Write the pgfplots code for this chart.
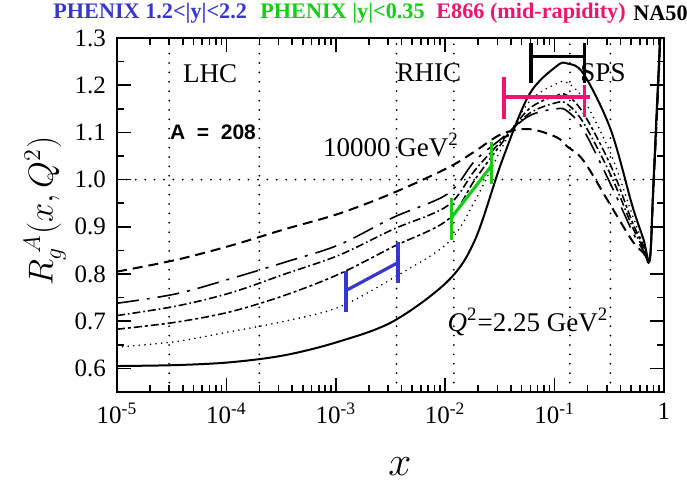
\documentclass[border=0pt]{standalone}
\usepackage{pgfplots}
\pgfplotsset{compat=1.18}
\usepackage{pgfplotstable}
\usepackage{fontspec}
\setmainfont{Liberation Serif}
\newfontfamily\labelsans{Liberation Sans}

\definecolor{phxfwd}{RGB}{55,55,205}
\definecolor{phxmid}{RGB}{20,205,20}
\definecolor{eeight}{RGB}{240,20,110}

% Gluon modification R_g^A(x,Q^2) for A=208 at six scales
% s: Q^2=2.25 GeV^2 ... h: Q^2=10000 GeV^2
\pgfplotstableread{
x        s      d      c      m      e      h
1e-5     0.605  0.645  0.683  0.712  0.738  0.805
3.48e-5  0.607  0.657  0.698  0.732  0.758  0.830
1.09e-4  0.613  0.678  0.720  0.760  0.790  0.860
3.43e-4  0.628  0.700  0.755  0.800  0.825  0.895
1.074e-3 0.657  0.730  0.800  0.840  0.862  0.928
3.365e-3 0.700  0.792  0.858  0.895  0.920  0.972
1.057e-2 0.785  0.866  0.915  0.945  0.970  1.025
1.871e-2 0.872  0.955  1.000  1.020  1.040  1.060
3.311e-2 1.040  1.068  1.078  1.083  1.088  1.097
5.861e-2 1.180  1.165  1.150  1.140  1.135  1.107
0.1038   1.240  1.203  1.178  1.163  1.150  1.090
0.1306   1.246  1.205  1.178  1.160  1.145  1.070
0.1841   1.224  1.170  1.140  1.120  1.105  1.040
0.3258   1.106  1.055  1.030  1.010  0.990  0.945
0.5140   0.944  0.925  0.910  0.900  0.890  0.870
0.6471   0.875  0.865  0.860  0.855  0.850  0.845
0.7413   0.830  0.830  0.830  0.830  0.830  0.830
0.7943   0.976  0.972  0.970  0.968  0.966  0.962
0.8511   1.130  1.125  1.120  1.118  1.115  1.110
0.9110   1.280  1.275  1.270  1.268  1.265  1.260
0.9528   1.400  1.395  1.390  1.388  1.385  1.380
}\shadowing

\begin{document}
\begin{tikzpicture}
\begin{axis}[
  name=ax,
  scale only axis, width=273.5pt, height=177pt,
  xmode=log, xmin=1e-5, xmax=1, ymin=0.55, ymax=1.3,
  axis line style={line width=1pt},
  xtick={1e-5,1e-4,1e-3,1e-2,1e-1,1},
  xticklabels={10\textsuperscript{-5},10\textsuperscript{-4},10\textsuperscript{-3},10\textsuperscript{-2},10\textsuperscript{-1},1},
  minor xtick={2e-5,3e-5,4e-5,5e-5,6e-5,7e-5,8e-5,9e-5,
               2e-4,3e-4,4e-4,5e-4,6e-4,7e-4,8e-4,9e-4,
               2e-3,3e-3,4e-3,5e-3,6e-3,7e-3,8e-3,9e-3,
               2e-2,3e-2,4e-2,5e-2,6e-2,7e-2,8e-2,9e-2,
               0.2,0.3,0.4,0.5,0.6,0.7,0.8,0.9},
  ytick={0.6,0.7,0.8,0.9,1.0,1.1,1.2,1.3},
  yticklabels={0.6,0.7,0.8,0.9,1.0,1.1,1.2,1.3},
  minor ytick={0.55,0.65,0.75,0.85,0.95,1.05,1.15,1.25},
  tick align=inside,
  major tick length=7pt, minor tick length=3.5pt,
  every tick/.style={line width=0.8pt, black},
  tick label style={font=\fontsize{12.5}{14}\selectfont},
  yticklabel style={xshift=-2pt},
  xticklabel style={yshift=-2pt},
  /pgf/number format/assume math mode=true,
  extra x ticks={3e-5,2e-4,3.59e-3,0.012,0.138,0.324},
  extra x tick labels={},
  extra y ticks={1.0},
  extra y tick labels={},
  extra tick style={grid=major, major tick length=0pt},
  major grid style={line width=1pt, line cap=round, dash pattern=on 0pt off 4.7pt, black},
  ylabel={$R_g^{\;A}(x,Q^2)$},
  ylabel style={font=\fontsize{17}{20}\selectfont, at={(axis description cs:-0.132,0.511)}, anchor=center},
  xlabel={$x$},
  xlabel style={font=\fontsize{22}{24}\selectfont, at={(axis description cs:0.517,-0.21)}, anchor=center},
]
% scale curves
\addplot[black, line width=1pt, smooth, tension=0.55] table[x=x,y=s]{\shadowing};
\addplot[black, line width=0.9pt, line cap=round, dash pattern=on 0pt off 2.8pt, smooth, tension=0.55] table[x=x,y=d]{\shadowing};
\addplot[black, line width=0.8pt, dash pattern=on 4pt off 1.5pt on 1.5pt off 1.5pt, smooth, tension=0.55] table[x=x,y=c]{\shadowing};
\addplot[black, line width=0.8pt, dash pattern=on 4pt off 1.5pt on 0.8pt off 1.5pt, smooth, tension=0.55] table[x=x,y=m]{\shadowing};
\addplot[black, line width=0.8pt, dash pattern=on 11pt off 4pt on 1.5pt off 4pt, smooth, tension=0.55] table[x=x,y=e]{\shadowing};
\addplot[black, line width=1pt, dash pattern=on 5pt off 3pt, smooth, tension=0.55] table[x=x,y=h]{\shadowing};

% PHENIX forward rapidity
\addplot[phxfwd, line width=1.6pt] coordinates {(1.24e-3,0.719) (1.24e-3,0.807)};
\addplot[phxfwd, line width=1.6pt] coordinates {(1.24e-3,0.765) (3.70e-3,0.824)};
\addplot[phxfwd, line width=1.6pt] coordinates {(3.70e-3,0.780) (3.70e-3,0.868)};
% PHENIX mid rapidity
\addplot[phxmid, line width=1.6pt] coordinates {(0.01147,0.873) (0.01147,0.960)};
\addplot[phxmid, line width=1.6pt] coordinates {(0.01147,0.920) (0.0266,1.030)};
\addplot[phxmid, line width=1.6pt] coordinates {(0.0266,0.990) (0.0266,1.080)};
% E866
\addplot[eeight, line width=1.6pt] coordinates {(0.0345,1.129) (0.0345,1.217)};
\addplot[eeight, line width=1.6pt] coordinates {(0.0345,1.175) (0.211,1.175)};
\addplot[eeight, line width=1.6pt] coordinates {(0.1877,1.133) (0.1877,1.200)};
% NA50
\addplot[black, line width=1.6pt] coordinates {(0.0608,1.205) (0.0608,1.290)};
\addplot[black, line width=1.6pt] coordinates {(0.0608,1.260) (0.1877,1.260)};
\addplot[black, line width=1.6pt] coordinates {(0.1877,1.205) (0.1877,1.290)};

\begin{scope}[font=\fontsize{13.5}{15}\selectfont]
\node at (axis cs:7.1e-5,1.224) {LHC};
\node at (axis cs:7.1e-3,1.226) {RHIC};
\node at (axis cs:0.277,1.226) {SPS};
\node at (axis cs:3.2e-3,1.073) {10000 GeV\textsuperscript{2}};
\node at (axis cs:0.0571,0.698) {\textit{Q}\textsuperscript{2}=2.25 GeV\textsuperscript{2}};
\end{scope}
\node[font=\labelsans\bfseries\fontsize{10.5}{12}\selectfont] at (axis cs:7.55e-5,1.101) {A\ \ =\ \ 208};
\end{axis}

\begin{scope}[font=\bfseries\fontsize{11.1}{13}\selectfont, inner sep=0pt]
\node[text=phxfwd, anchor=west] at ([shift={(-32pt,12.5pt)}]ax.north west) {PHENIX 1.2<|y|<2.2};
\node[text=phxmid, anchor=west] at ([shift={(71.5pt,12.5pt)}]ax.north west) {PHENIX |y|<0.35};
\node[text=eeight, anchor=west] at ([shift={(159.5pt,12.5pt)}]ax.north west) {E866 (mid-rapidity)};
\node[text=black, anchor=west] at ([shift={(258pt,12.5pt)}]ax.north west) {NA50};
\end{scope}

\pgfresetboundingbox
\path[use as bounding box] ([shift={(-58.5pt,-47pt)}]ax.south west) rectangle ([shift={(11.5pt,19pt)}]ax.north east);
\end{tikzpicture}
\end{document}
